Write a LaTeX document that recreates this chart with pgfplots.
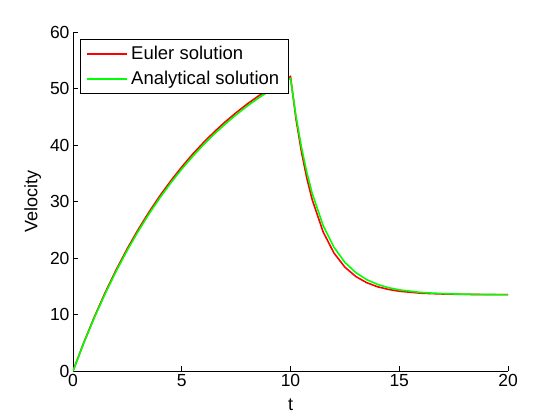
\documentclass[border=0pt]{standalone}
\usepackage{fontspec}
\setmainfont{Liberation Sans}
\usepackage{pgfplots}
\pgfplotsset{compat=1.18}
\definecolor{mred}{RGB}{255,0,0}
\definecolor{mgreen}{RGB}{0,255,0}
\begin{document}
\begin{tikzpicture}
\path[use as bounding box] (-73bp,-49bp) rectangle (487bp,371bp);
\begin{axis}[
  at={(0,0)}, anchor=south west,
  scale only axis, width=435bp, height=339bp,
  xmin=0, xmax=20, ymin=0, ymax=60,
  xtick={0,5,10,15,20}, ytick={0,10,20,30,40,50,60},
  axis x line*=bottom, axis y line*=left,
  axis line style={-, line width=0.6bp},
  tick align=inside, major tick length=5bp,
  tick style={line width=0.6bp, black},
  /pgf/number format/assume math mode=true,
  every tick label/.append style={font=\fontsize{17.5bp}{20bp}\selectfont},
  label style={font=\fontsize{18bp}{21bp}\selectfont},
  xlabel={t}, ylabel={Velocity},
  xlabel style={yshift=-5bp},
  ylabel style={yshift=2bp},
  legend cell align=left,
  legend style={at={(0,1)}, anchor=north west, xshift=7bp, yshift=-7bp,
    font=\fontsize{18.5bp}{21bp}\selectfont, draw=black,
    inner xsep=6bp, inner ysep=5bp, row sep=6bp,
    nodes={inner xsep=3bp}},
  legend image code/.code={\draw[#1, line width=2bp] (0bp,0bp) -- (40bp,0bp);},
]
\addplot[mred, line width=1.6bp] coordinates {
(0,0) (0.5,5.07) (1,9.74) (1.5,14.05) (2,18.02) (2.5,21.68) (3,25.05) (3.5,28.16)
(4,31.03) (4.5,33.67) (5,36.11) (5.5,38.36) (6,40.43) (6.5,42.34) (7,44.10)
(7.5,45.72) (8,47.23) (8.5,48.60) (9,49.87) (9.5,51.05) (10,52.13)
(10.25,44.67) (10.5,38.87) (10.75,34.14) (11,30.29) (11.5,24.62) (12,20.87)
(12.5,18.38) (13,16.73) (13.5,15.64) (14,14.91) (14.5,14.44) (15,14.12)
(16,13.77) (17,13.63) (18,13.56) (19,13.52) (20,13.51)
};
\addlegendentry{Euler solution}
\addplot[mgreen, line width=1.6bp] coordinates {
(0,0) (0.5,4.99) (1,9.60) (1.5,13.85) (2,17.78) (2.5,21.40) (3,24.74) (3.5,27.83)
(4,30.68) (4.5,33.31) (5,35.74) (5.5,37.98) (6,40.05) (6.5,41.96) (7,43.72)
(7.5,45.35) (8,46.86) (8.5,48.24) (9,49.52) (9.5,50.71) (10,51.80)
(10.25,45.17) (10.5,39.69) (10.75,35.16) (11,31.41) (11.5,25.75) (12,21.88)
(12.5,19.23) (13,17.42) (13.5,16.18) (14,15.33) (14.5,14.75) (15,14.36)
(16,13.90) (17,13.69) (18,13.59) (19,13.54) (20,13.52)
};
\addlegendentry{Analytical solution}
\end{axis}
\end{tikzpicture}
\end{document}
